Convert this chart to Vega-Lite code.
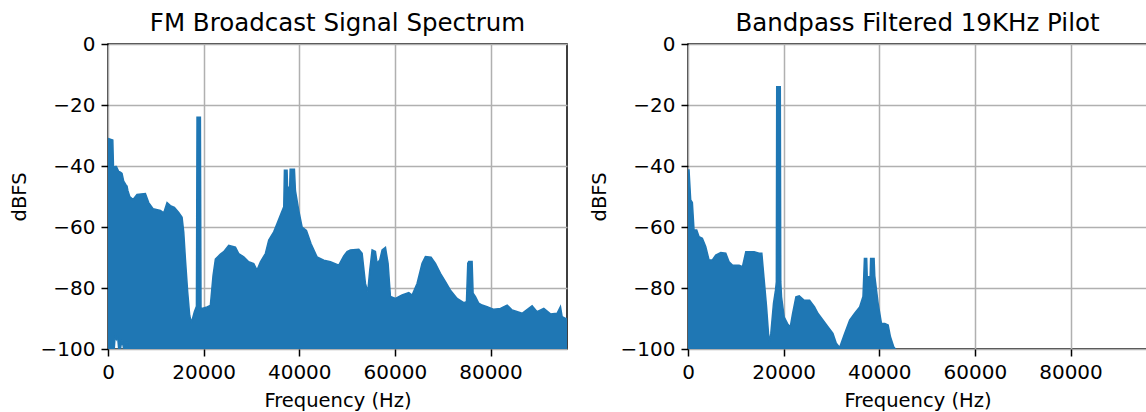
{
  "$schema": "https://vega.github.io/schema/vega-lite/v6.json",
  "padding": {"left": 8, "top": 9, "right": 0, "bottom": 0},
  "spacing": 20,
  "datasets": {
    "full": [
      {"f": 0, "db": -31, "lo": -100},
      {"f": 1000, "db": -31.5, "lo": -100},
      {"f": 1150, "db": -40.5, "lo": -100},
      {"f": 1300, "db": -40.3, "lo": -100},
      {"f": 1500, "db": -40.2, "lo": -95.5},
      {"f": 1750, "db": -40.2, "lo": -96.8},
      {"f": 2000, "db": -41, "lo": -95.8},
      {"f": 2240, "db": -41.8, "lo": -100},
      {"f": 2600, "db": -42, "lo": -100},
      {"f": 2930, "db": -42.4, "lo": -97},
      {"f": 3280, "db": -45, "lo": -100},
      {"f": 3800, "db": -46.3, "lo": -100},
      {"f": 3980, "db": -46.6, "lo": -97.5},
      {"f": 4150, "db": -48, "lo": -100},
      {"f": 4540, "db": -50, "lo": -100},
      {"f": 5240, "db": -51, "lo": -100},
      {"f": 6070, "db": -49.3, "lo": -100},
      {"f": 7820, "db": -49, "lo": -100},
      {"f": 8510, "db": -52, "lo": -100},
      {"f": 9420, "db": -54, "lo": -100},
      {"f": 10960, "db": -54.6, "lo": -100},
      {"f": 11650, "db": -55.4, "lo": -100},
      {"f": 12350, "db": -52, "lo": -100},
      {"f": 13050, "db": -53, "lo": -100},
      {"f": 13880, "db": -53.6, "lo": -100},
      {"f": 14790, "db": -55.2, "lo": -100},
      {"f": 15490, "db": -56.8, "lo": -100},
      {"f": 15840, "db": -61.7, "lo": -100},
      {"f": 16190, "db": -70.5, "lo": -100},
      {"f": 16670, "db": -81.4, "lo": -100},
      {"f": 17090, "db": -89, "lo": -100},
      {"f": 17440, "db": -91.4, "lo": -100},
      {"f": 18070, "db": -87.8, "lo": -100},
      {"f": 18500, "db": -86, "lo": -100},
      {"f": 18620, "db": -24, "lo": -100},
      {"f": 19320, "db": -24, "lo": -100},
      {"f": 19450, "db": -86.5, "lo": -100},
      {"f": 19670, "db": -86.7, "lo": -100},
      {"f": 20710, "db": -86.2, "lo": -100},
      {"f": 21410, "db": -85.7, "lo": -100},
      {"f": 21970, "db": -75.9, "lo": -100},
      {"f": 22460, "db": -70.5, "lo": -100},
      {"f": 23510, "db": -68.9, "lo": -100},
      {"f": 24200, "db": -68.1, "lo": -100},
      {"f": 25250, "db": -66, "lo": -100},
      {"f": 26650, "db": -66.6, "lo": -100},
      {"f": 27340, "db": -68.7, "lo": -100},
      {"f": 28390, "db": -69.8, "lo": -100},
      {"f": 29430, "db": -71.4, "lo": -100},
      {"f": 30480, "db": -72, "lo": -100},
      {"f": 31170, "db": -74.1, "lo": -100},
      {"f": 31880, "db": -71.4, "lo": -100},
      {"f": 32920, "db": -68.7, "lo": -100},
      {"f": 33620, "db": -64.3, "lo": -100},
      {"f": 34660, "db": -61.6, "lo": -100},
      {"f": 35360, "db": -58.9, "lo": -100},
      {"f": 36190, "db": -55.6, "lo": -100},
      {"f": 36760, "db": -53.4, "lo": -100},
      {"f": 36900, "db": -41.4, "lo": -100},
      {"f": 37450, "db": -41.4, "lo": -100},
      {"f": 37550, "db": -47, "lo": -100},
      {"f": 38000, "db": -47, "lo": -100},
      {"f": 38100, "db": -41.1, "lo": -100},
      {"f": 38990, "db": -41.1, "lo": -100},
      {"f": 39200, "db": -48.1, "lo": -100},
      {"f": 39900, "db": -54.6, "lo": -100},
      {"f": 40590, "db": -60, "lo": -100},
      {"f": 41500, "db": -61.1, "lo": -100},
      {"f": 42470, "db": -65.5, "lo": -100},
      {"f": 43720, "db": -69.8, "lo": -100},
      {"f": 45130, "db": -70.9, "lo": -100},
      {"f": 46520, "db": -71.4, "lo": -100},
      {"f": 48270, "db": -72.5, "lo": -100},
      {"f": 49310, "db": -69.5, "lo": -100},
      {"f": 50000, "db": -68.1, "lo": -100},
      {"f": 50700, "db": -67.5, "lo": -100},
      {"f": 52450, "db": -67.3, "lo": -100},
      {"f": 53150, "db": -68.6, "lo": -100},
      {"f": 53840, "db": -78.5, "lo": -100},
      {"f": 54330, "db": -81.2, "lo": -100},
      {"f": 54750, "db": -74.1, "lo": -100},
      {"f": 55240, "db": -67.5, "lo": -100},
      {"f": 55930, "db": -68, "lo": -100},
      {"f": 56280, "db": -71.9, "lo": -100},
      {"f": 56840, "db": -70.8, "lo": -100},
      {"f": 57330, "db": -67.5, "lo": -100},
      {"f": 58030, "db": -66.7, "lo": -100},
      {"f": 58580, "db": -71.9, "lo": -100},
      {"f": 59070, "db": -82.8, "lo": -100},
      {"f": 60120, "db": -83.4, "lo": -100},
      {"f": 61510, "db": -82.3, "lo": -100},
      {"f": 62910, "db": -81.5, "lo": -100},
      {"f": 63610, "db": -82.3, "lo": -100},
      {"f": 64640, "db": -78.5, "lo": -100},
      {"f": 65690, "db": -71.9, "lo": -100},
      {"f": 66390, "db": -69.7, "lo": -100},
      {"f": 67570, "db": -69.9, "lo": -100},
      {"f": 68480, "db": -71.9, "lo": -100},
      {"f": 69530, "db": -75.2, "lo": -100},
      {"f": 70580, "db": -77.9, "lo": -100},
      {"f": 71620, "db": -80.7, "lo": -100},
      {"f": 73010, "db": -83.4, "lo": -100},
      {"f": 74410, "db": -84.8, "lo": -100},
      {"f": 74970, "db": -84.5, "lo": -100},
      {"f": 75250, "db": -71.9, "lo": -100},
      {"f": 75460, "db": -71.3, "lo": -100},
      {"f": 76150, "db": -71.3, "lo": -100},
      {"f": 76360, "db": -81.7, "lo": -100},
      {"f": 76850, "db": -82.8, "lo": -100},
      {"f": 77550, "db": -85, "lo": -100},
      {"f": 78240, "db": -85.6, "lo": -100},
      {"f": 79290, "db": -86.1, "lo": -100},
      {"f": 80690, "db": -87, "lo": -100},
      {"f": 82080, "db": -86.7, "lo": -100},
      {"f": 83480, "db": -85.6, "lo": -100},
      {"f": 84520, "db": -87.2, "lo": -100},
      {"f": 86610, "db": -88.3, "lo": -100},
      {"f": 88700, "db": -85.8, "lo": -100},
      {"f": 89740, "db": -87.8, "lo": -100},
      {"f": 91150, "db": -86.7, "lo": -100},
      {"f": 92540, "db": -88.5, "lo": -100},
      {"f": 93930, "db": -88.3, "lo": -100},
      {"f": 94630, "db": -86.1, "lo": -100},
      {"f": 94980, "db": -89.4, "lo": -100},
      {"f": 95680, "db": -90, "lo": -100},
      {"f": 96000, "db": -90, "lo": -100}
    ],
    "pilot": [
      {"f": 0, "db": -41.3, "lo": -100},
      {"f": 210, "db": -41.3, "lo": -100},
      {"f": 560, "db": -51.1, "lo": -100},
      {"f": 910, "db": -52, "lo": -100},
      {"f": 1260, "db": -61, "lo": -100},
      {"f": 1820, "db": -61, "lo": -100},
      {"f": 2310, "db": -63.2, "lo": -100},
      {"f": 3000, "db": -63.7, "lo": -100},
      {"f": 3700, "db": -66.4, "lo": -100},
      {"f": 4400, "db": -70.8, "lo": -100},
      {"f": 5100, "db": -70.8, "lo": -100},
      {"f": 5800, "db": -69.2, "lo": -100},
      {"f": 6850, "db": -68.4, "lo": -100},
      {"f": 7900, "db": -68.6, "lo": -100},
      {"f": 8590, "db": -71.4, "lo": -100},
      {"f": 9290, "db": -72.5, "lo": -100},
      {"f": 10690, "db": -72.5, "lo": -100},
      {"f": 11390, "db": -73, "lo": -100},
      {"f": 12090, "db": -68.1, "lo": -100},
      {"f": 12790, "db": -68.1, "lo": -100},
      {"f": 13830, "db": -68.1, "lo": -100},
      {"f": 14880, "db": -68.6, "lo": -100},
      {"f": 15440, "db": -68.6, "lo": -100},
      {"f": 15930, "db": -77.3, "lo": -100},
      {"f": 16420, "db": -86, "lo": -100},
      {"f": 16980, "db": -98, "lo": -100},
      {"f": 17330, "db": -94.8, "lo": -100},
      {"f": 17880, "db": -85, "lo": -100},
      {"f": 18300, "db": -80.7, "lo": -100},
      {"f": 18480, "db": -78, "lo": -100},
      {"f": 18560, "db": -14, "lo": -100},
      {"f": 19300, "db": -14, "lo": -100},
      {"f": 19400, "db": -78, "lo": -100},
      {"f": 19560, "db": -82.9, "lo": -100},
      {"f": 20120, "db": -89.5, "lo": -100},
      {"f": 20820, "db": -91.7, "lo": -100},
      {"f": 21380, "db": -92.8, "lo": -100},
      {"f": 21870, "db": -88.4, "lo": -100},
      {"f": 22570, "db": -82.9, "lo": -100},
      {"f": 23270, "db": -82.6, "lo": -100},
      {"f": 24310, "db": -84, "lo": -100},
      {"f": 25430, "db": -84, "lo": -100},
      {"f": 26470, "db": -86.2, "lo": -100},
      {"f": 27170, "db": -88.3, "lo": -100},
      {"f": 28220, "db": -90.5, "lo": -100},
      {"f": 29260, "db": -92.7, "lo": -100},
      {"f": 30310, "db": -94.9, "lo": -100},
      {"f": 31010, "db": -98.1, "lo": -100},
      {"f": 31710, "db": -99.5, "lo": -100},
      {"f": 32760, "db": -94.9, "lo": -100},
      {"f": 33810, "db": -90.5, "lo": -100},
      {"f": 34860, "db": -88.3, "lo": -100},
      {"f": 35900, "db": -86.2, "lo": -100},
      {"f": 36600, "db": -82.8, "lo": -100},
      {"f": 36900, "db": -70.3, "lo": -100},
      {"f": 37370, "db": -70.3, "lo": -100},
      {"f": 37480, "db": -76.3, "lo": -100},
      {"f": 38100, "db": -76.3, "lo": -100},
      {"f": 38200, "db": -70.3, "lo": -100},
      {"f": 38920, "db": -70.3, "lo": -100},
      {"f": 39060, "db": -76, "lo": -100},
      {"f": 39760, "db": -85, "lo": -100},
      {"f": 40460, "db": -91.6, "lo": -100},
      {"f": 41160, "db": -91.6, "lo": -100},
      {"f": 41860, "db": -92.1, "lo": -100},
      {"f": 42340, "db": -96, "lo": -100},
      {"f": 43040, "db": -99.3, "lo": -100},
      {"f": 43390, "db": -100, "lo": -100}
    ]
  },
  "hconcat": [
    {
      "data": {"name": "full"},
      "width": 459,
      "height": 305,
      "title": {"text": "FM Broadcast Signal Spectrum", "baseline": "alphabetic", "offset": -21},
      "mark": {"type": "area", "color": "#1f77b4", "stroke": "#1f77b4", "strokeWidth": 1.5, "clip": true},
      "encoding": {
        "x": {"field": "f", "type": "quantitative", "scale": {"domain": [0, 96000], "nice": false, "zero": false}, "title": "Frequency (Hz)", "axis": {"values": [0, 20000, 40000, 60000, 80000], "format": "d"}},
        "y": {"field": "db", "type": "quantitative", "scale": {"domain": [-100, 0], "nice": false, "zero": false}, "title": "dBFS", "axis": {"values": [-100, -80, -60, -40, -20, 0], "titleX": -83}},
        "y2": {"field": "lo"}
      }
    },
    {
      "data": {"name": "pilot"},
      "width": 459,
      "height": 305,
      "title": {"text": "Bandpass Filtered 19KHz Pilot", "baseline": "alphabetic", "offset": -21},
      "mark": {"type": "area", "color": "#1f77b4", "stroke": "#1f77b4", "strokeWidth": 1.5, "clip": true},
      "encoding": {
        "x": {"field": "f", "type": "quantitative", "scale": {"domain": [0, 96000], "nice": false, "zero": false}, "title": "Frequency (Hz)", "axis": {"values": [0, 20000, 40000, 60000, 80000], "format": "d"}},
        "y": {"field": "db", "type": "quantitative", "scale": {"domain": [-100, 0], "nice": false, "zero": false}, "title": "dBFS", "axis": {"values": [-100, -80, -60, -40, -20, 0], "titleX": -83}},
        "y2": {"field": "lo"}
      }
    }
  ],
  "config": {
    "font": "DejaVu Sans",
    "view": {"stroke": "black", "strokeWidth": 1.5},
    "axis": {
      "grid": true, "gridColor": "#b0b0b0", "gridWidth": 1.5,
      "domain": false,
      "ticks": true, "tickColor": "black", "tickSize": 7, "tickWidth": 1.5,
      "labelFont": "DejaVu Sans", "labelFontSize": 20, "labelColor": "black", "labelPadding": 6,
      "labelFlush": false, "labelOverlap": false,
      "titleFont": "DejaVu Sans", "titleFontSize": 19.5, "titleFontWeight": "normal", "titleColor": "black", "titlePadding": 9,
      "titleBaseline": "alphabetic"
    },
    "axisX": {"titleBaseline": "top"},
    "title": {"font": "DejaVu Sans", "fontSize": 24.5, "fontWeight": "normal", "color": "black", "anchor": "middle"}
  }
}
